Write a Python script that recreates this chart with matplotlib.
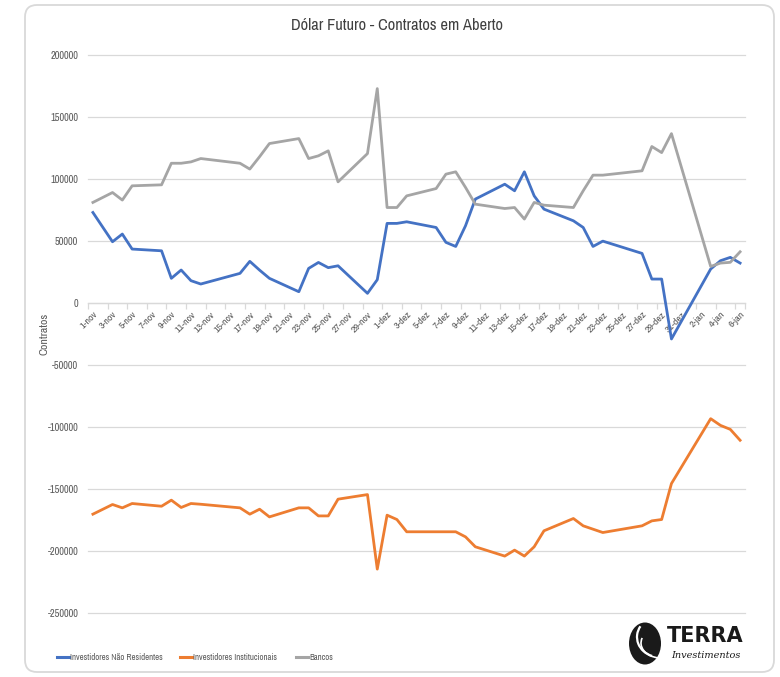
import datetime as dt

import matplotlib
matplotlib.use("Agg")
import matplotlib.pyplot as plt
from matplotlib import font_manager as fm
from matplotlib.lines import Line2D
from matplotlib.patches import FancyBboxPatch, Ellipse, Arc

# --- data (business days, Nov 2021 - Jan 2022) ---
dates = (
    ["2021-11-%02d" % d for d in [1, 3, 4, 5, 8, 9, 10, 11, 12, 16, 17, 18, 19, 22, 23, 24, 25, 26, 29, 30]]
    + ["2021-12-%02d" % d for d in [1, 2, 3, 6, 7, 8, 9, 10, 13, 14, 15, 16, 17, 20, 21, 22, 23, 27, 28, 29, 30]]
    + ["2022-01-%02d" % d for d in [3, 4, 5, 6]]
)

nao_residentes = [
    73000, 49400, 55600, 43500, 42100, 19900, 26600, 18000, 15300, 23900,
    33600, 26500, 19900, 9100, 27900, 32700, 28500, 30000, 7800, 18800,
    64200, 64200, 65500, 60900, 48900, 45600, 62300, 83800, 95800, 90500,
    105800, 86400, 75700, 66300, 60900, 45600, 49900, 40000, 19300, 19300, -29000,
    27400, 34100, 36800, 32200,
]
institucionais = [
    -170300, -162500, -165200, -161700, -163900, -159000, -164900, -161700, -162300, -165200,
    -170300, -166300, -172500, -165200, -165200, -171700, -171700, -158200, -154500, -214600,
    -171100, -174600, -184500, -184500, -184500, -184500, -188600, -196600, -204100, -199300,
    -204100, -196600, -183700, -173800, -179700, -182400, -185100, -179700, -175700, -174600, -145600,
    -93300, -98700, -101900, -110700,
]
bancos = [
    81100, 89100, 83000, 94500, 95300, 112700, 112700, 113800, 116500, 112700,
    108000, 118000, 128600, 132600, 116500, 118700, 122700, 97700, 120500, 172900,
    77000, 77000, 86400, 92300, 103900, 105800, 93200, 79700, 76200, 77000,
    67700, 81100, 78900, 77000, 90500, 103100, 103100, 106600, 126200, 121300, 136600,
    29500, 32200, 32800, 41300,
]

series_names = ["Investidores Não Residentes", "Investidores Institucionais", "Bancos"]
months_pt = {11: "nov", 12: "dez", 1: "jan"}
yticks = [-250000, -200000, -150000, -100000, -50000, 0, 50000, 100000, 150000, 200000]

start = dt.date(2021, 11, 1)
end = dt.date(2022, 1, 6)
n_days = (end - start).days
x = [(dt.date.fromisoformat(d) - start).days for d in dates]

# a narrow face is closest to the original (Calibri); otherwise Liberation Sans
narrow = [f for f in fm.fontManager.ttflist
          if not f.name.startswith("DejaVu") and f.style == "normal"
          and f.weight in (400, "normal", "regular", "book")
          and ("Narrow" in f.name or "Condensed" in f.name or "condensed" in str(f.stretch))]
if narrow:
    plt.rcParams["font.family"] = [narrow[0].name, "DejaVu Sans"]
    plt.rcParams["font.stretch"] = narrow[0].stretch
else:
    plt.rcParams["font.family"] = ["Liberation Sans", "DejaVu Sans"]

GREY_TXT = "#595959"
GRID = "#d9d9d9"

fig = plt.figure(figsize=(7.8, 6.77), dpi=100)
renderer = fig.canvas.get_renderer()


def fit_size(txt, width_px, base=10.0):
    # font size that makes txt about width_px wide, as in the original
    t = fig.text(0, 0, txt, fontsize=base)
    w = t.get_window_extent(renderer=renderer).width
    t.remove()
    return base * width_px / w


title_fs = fit_size("Dólar Futuro - Contratos em Aberto", 212)
legend_fs = fit_size("Investidores Não Residentes", 93)
ytick_fs = fit_size("200000", 28)
xtick_fs = fit_size("11-nov", 25)
ylabel_fs = fit_size("Contratos", 42)

# card frame
fig.patches.append(FancyBboxPatch((0.25, 0.05), 7.49, 6.67,
                                  boxstyle="round,pad=0,rounding_size=0.12",
                                  transform=fig.dpi_scale_trans, fc="white",
                                  ec=GRID, lw=1.3, zorder=-1))

ax = fig.add_axes([88 / 780, 1 - 613 / 677, (745 - 88) / 780, (613 - 55) / 677])
ax.set_facecolor("none")

colors = ["#4472C4", "#ED7D31", "#A5A5A5"]
for vals, c, name in zip([nao_residentes, institucionais, bancos], colors, series_names):
    ax.plot(x, vals, color=c, lw=2.0, label=name, zorder=3)

ax.set_xlim(-0.5, n_days + 0.5)
ax.set_ylim(-250000, 200000)
ax.set_yticks(yticks)
ax.set_yticklabels([str(v) for v in yticks])
ax.yaxis.grid(True, color=GRID, lw=0.9)
for gl in ax.get_ygridlines():
    gl.set_clip_on(False)
ax.set_axisbelow(True)
ax.tick_params(axis="y", length=0, labelsize=ytick_fs, labelcolor=GREY_TXT, pad=7)

for s in ["left", "right", "top"]:
    ax.spines[s].set_visible(False)
ax.spines["bottom"].set_position(("data", 0))
ax.spines["bottom"].set_color(GRID)
ax.spines["bottom"].set_linewidth(0.9)

# labels every 2 days at slot centres, tick marks at slot boundaries
label_days = list(range(0, n_days + 1, 2))
label_text = []
for d in label_days:
    day = start + dt.timedelta(days=d)
    label_text.append(f"{day.day}-{months_pt[day.month]}")
ax.set_xticks(label_days)
ax.set_xticklabels(label_text, rotation=45, ha="right", va="top", rotation_mode="anchor")
ax.set_xticks([d - 0.5 for d in label_days] + [n_days + 0.5], minor=True)
ax.tick_params(axis="x", which="major", length=0, labelsize=xtick_fs, labelcolor=GREY_TXT, pad=5)
ax.tick_params(axis="x", which="minor", length=4, color=GRID, width=0.9)

fig.text(44 / 780, 1 - 334 / 677, "Contratos", rotation=90, ha="center", va="center",
         fontsize=ylabel_fs, color=GREY_TXT)
fig.text(397 / 780, 1 - 26 / 677, "Dólar Futuro - Contratos em Aberto", ha="center",
         va="center", fontsize=title_fs, color="#404040")

# legend, drawn by hand along the bottom of the card
leg_x = [57, 180, 296]
leg_y = 1 - 657 / 677
for x0, c, name in zip(leg_x, colors, series_names):
    fig.add_artist(Line2D([x0 / 780, (x0 + 12) / 780], [leg_y, leg_y], color=c, lw=2.2))
    fig.text((x0 + 13) / 780, leg_y, name, ha="left", va="center", fontsize=legend_fs,
             color=GREY_TXT)

# TERRA logo (approximation)
lax = fig.add_axes([625 / 780, 1 - 667 / 677, 40 / 780, 47 / 677])
lax.set_xlim(0, 40); lax.set_ylim(0, 47); lax.axis("off")
lax.add_patch(Ellipse((20, 23.5), 32, 42, fc="#1a1a1a", ec="none"))
lax.add_patch(Arc((34, 30), 44, 40, theta1=150, theta2=250, color="white", lw=1.6))
lax.add_patch(Arc((36, 24), 40, 30, theta1=165, theta2=260, color="white", lw=1.2))
fig.text(705 / 780, 1 - 636 / 677, "TERRA", ha="center", va="center", fontsize=15,
         fontweight="bold", color="#1a1a1a", family="DejaVu Sans", stretch="normal")
fig.text(706 / 780, 1 - 655 / 677, "Investimentos", ha="center", va="center", fontsize=7,
         style="italic", color="#1a1a1a", family="DejaVu Serif", stretch="normal")

fig.savefig("out.png", dpi=100)
